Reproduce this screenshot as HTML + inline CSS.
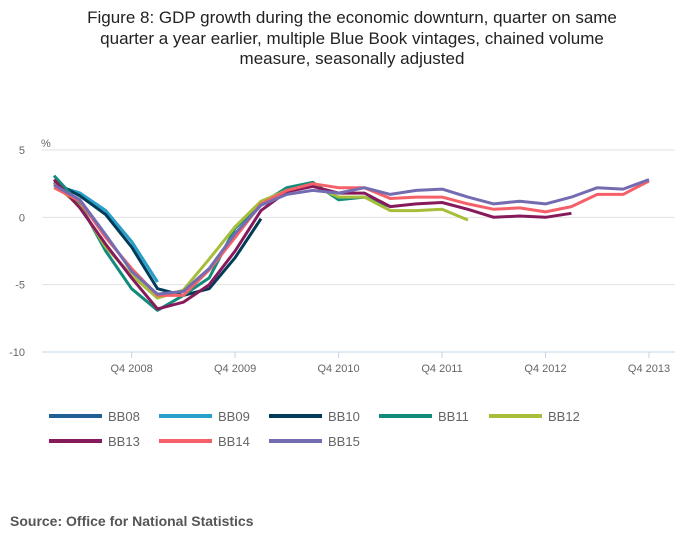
<!DOCTYPE html>
<html><head><meta charset="utf-8"><style>
body{margin:0;background:#fff;font-family:"Liberation Sans",sans-serif;}
#wrap{position:relative;width:700px;height:549px;overflow:hidden;}
#title{position:absolute;left:0;top:8px;width:704px;text-align:center;font-size:17px;line-height:20.5px;color:#222;white-space:nowrap;}
#source{position:absolute;left:10px;top:513px;font-size:14px;font-weight:bold;color:#555;}
</style></head><body>
<div id="wrap">
<div id="title">Figure 8: GDP growth during the economic downturn, quarter on same<br>quarter a year earlier, multiple Blue Book vintages, chained volume<br>measure, seasonally adjusted</div>
<svg id="chart" width="700" height="549" style="position:absolute;left:0;top:0"></svg>
<div id="source">Source: Office for National Statistics</div>
</div>
<script>
const xTickLabels = ["Q4 2008","Q4 2009","Q4 2010","Q4 2011","Q4 2012","Q4 2013"];
const xTickIdx = [3,7,11,15,19,23];
const yTicks = [5,0,-5,-10];
const seriesNames = ["BB08","BB09","BB10","BB11","BB12","BB13","BB14","BB15"];
const seriesColors = ["#206095","#27a0cc","#003c57","#118c7b","#a8bd3a","#871a5b","#f66068","#746cb1"];
const bb08 = [2.4,1.8,0.5,-1.8,-4.8];
const bb09 = [2.4,1.8,0.5,-1.8,-4.8];
const bb10 = [2.6,1.6,0.2,-2.2,-5.3,-5.8,-5.3,-3.0,-0.1];
const bb11 = [3.1,1.0,-2.5,-5.3,-6.9,-5.8,-4.5,-0.8,1.0,2.2,2.6,1.3,1.5,0.8];
const bb12 = [2.5,0.8,-2.2,-4.3,-6.0,-5.4,-3.1,-0.7,1.2,2.0,2.4,1.5,1.5,0.5,0.5,0.6,-0.2];
const bb13 = [2.8,0.7,-2.0,-4.5,-6.8,-6.3,-5.0,-2.5,0.5,1.9,2.3,1.8,1.8,0.8,1.0,1.1,0.6,0.0,0.1,0.0,0.3];
const bb14 = [2.2,1.2,-1.5,-3.8,-5.8,-5.8,-3.9,-1.5,1.0,2.0,2.5,2.2,2.2,1.4,1.5,1.5,1.0,0.6,0.7,0.4,0.8,1.7,1.7,2.7];
const bb15 = [2.4,1.3,-1.3,-4.0,-5.7,-5.5,-3.8,-1.2,0.9,1.7,2.0,1.8,2.2,1.7,2.0,2.1,1.5,1.0,1.2,1.0,1.5,2.2,2.1,2.8];
const seriesData = [bb08,bb09,bb10,bb11,bb12,bb13,bb14,bb15];

const NS="http://www.w3.org/2000/svg";
const svg=document.getElementById('chart');
const x0=54, dx=25.87, yTop=150, yBot=352, vMax=5, vMin=-10;
function xs(i){return x0+i*dx;}
function ys(v){return yTop+(vMax-v)/(vMax-vMin)*(yBot-yTop);}
function mk(tag,attrs){const e=document.createElementNS(NS,tag);for(const k in attrs)e.setAttribute(k,attrs[k]);svg.appendChild(e);return e;}

yTicks.forEach(v=>{
  const g=mk('line',{x1:42,x2:675,y1:ys(v),y2:ys(v),stroke:v===-10?'#c6d4e6':'#e2e2e2','stroke-width':1});
  
  
  const t=mk('text',{x:25,y:ys(v)+4,'text-anchor':'end','font-size':11,fill:'#666','font-family':'Liberation Sans, sans-serif'});
  t.textContent=v;
  
  
});
const u=mk('text',{x:41,y:147,'font-size':11,fill:'#666','font-family':'Liberation Sans, sans-serif'});
u.textContent='%';



xTickIdx.forEach((idx,k)=>{
  const tk=mk('line',{x1:xs(idx),x2:xs(idx),y1:352,y2:358,stroke:'#c6d4e6'});
  
  
  const t=mk('text',{x:xs(idx),y:372,'text-anchor':'middle','font-size':11,fill:'#666','font-family':'Liberation Sans, sans-serif'});
  t.textContent=xTickLabels[k];
  
  
});

seriesData.forEach((d,s)=>{
  const pts=d.map((v,i)=>xs(i).toFixed(1)+','+ys(v).toFixed(1)).join(' ');
  const p=mk('polyline',{points:pts,fill:'none',stroke:seriesColors[s],'stroke-width':3,'stroke-linejoin':'round'});
  
  
});

seriesNames.forEach((n,s)=>{
  const row=s<5?0:1, col=s<5?s:s-5;
  const lx=49+col*110, ly=416+row*25;
  const sw=mk('line',{x1:lx,x2:lx+53,y1:ly,y2:ly,stroke:seriesColors[s],'stroke-width':4});
  
  
  const t=mk('text',{x:lx+59,y:ly+5,'font-size':13,fill:'#666','font-family':'Liberation Sans, sans-serif'});
  t.textContent=n;
  
  
});
</script>
</body></html>
